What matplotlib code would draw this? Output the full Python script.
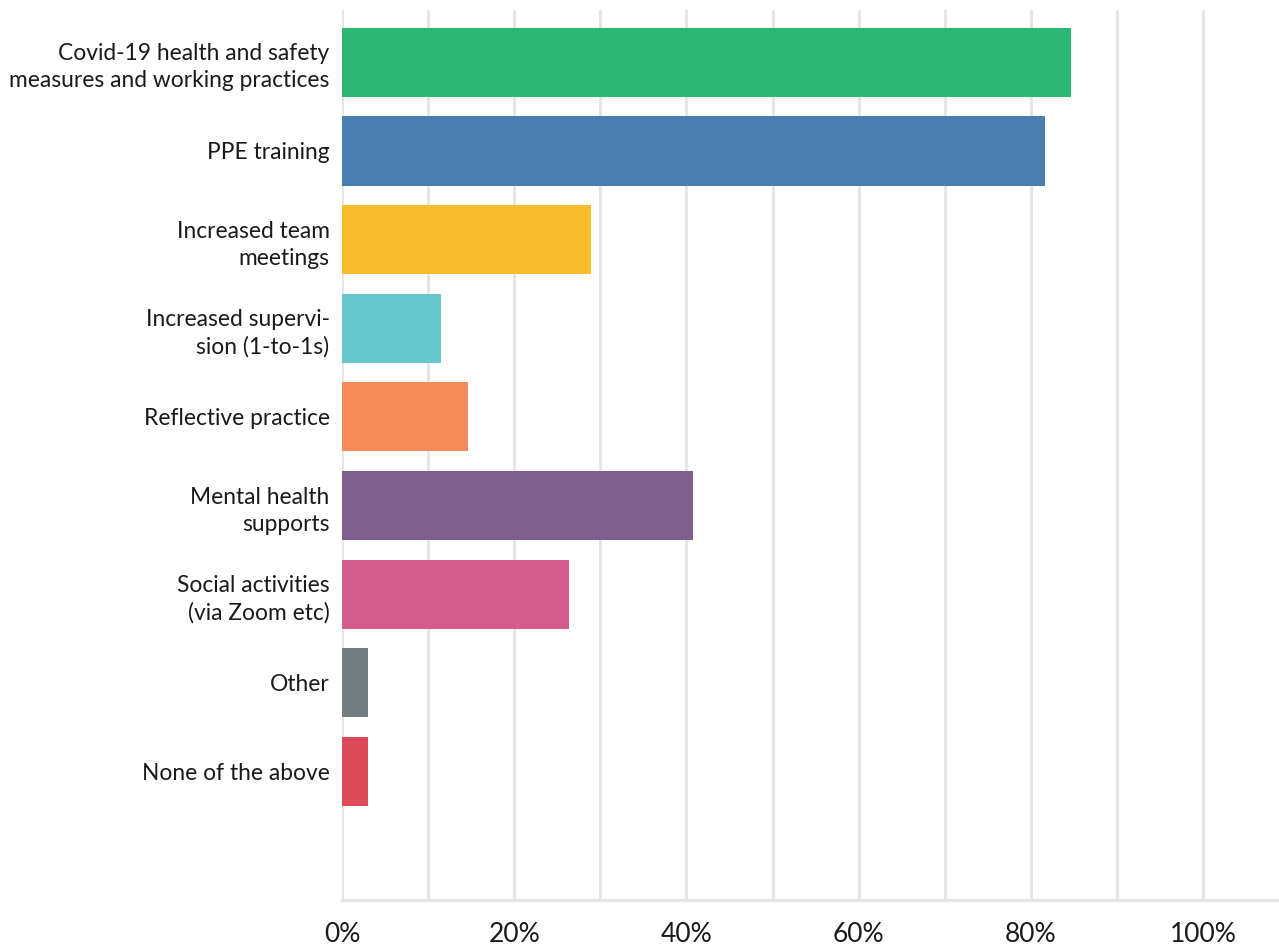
import matplotlib.pyplot as plt
from matplotlib.ticker import MultipleLocator

categories = [
    "Covid-19 health and safety\nmeasures and working practices",
    "PPE training",
    "Increased team\nmeetings",
    "Increased supervi-\nsion (1-to-1s)",
    "Reflective practice",
    "Mental health\nsupports",
    "Social activities\n(via Zoom etc)",
    "Other",
    "None of the above",
]
values = [84.7, 81.6, 28.9, 11.5, 14.6, 40.8, 26.4, 3.0, 3.0]
colors = ["#2bb673", "#4a7daf", "#f8bd2b", "#67c7cc", "#f68b59",
          "#7f5f8c", "#d65c8d", "#737d82", "#dd4b5a"]
xticks = [0, 20, 40, 60, 80, 100]

plt.rcParams['font.family'] = ['Lato', 'DejaVu Sans']

fig = plt.figure(figsize=(12.79, 9.47), dpi=100)
ax = fig.add_axes([0.2674, 0.0496, 0.7326, 0.9398])

ypos = list(range(len(categories)))
ax.barh(ypos, values, height=0.78, color=colors, zorder=2)

ax.set_xlim(0, 108.8)
ax.set_ylim(9.45, -0.59)
ax.set_yticks(ypos)
ax.set_yticklabels(categories, fontsize=16.4, color="#1a1a1a", linespacing=1.35)
ax.set_xticks(xticks)
ax.set_xticklabels([f"{t}%" for t in xticks], fontsize=19, color="#1a1a1a")
ax.xaxis.set_minor_locator(MultipleLocator(10))

ax.grid(axis="x", which="both", color="#e6e6e6", linewidth=2.2, zorder=0)
ax.tick_params(axis="both", which="both", length=0)
ax.tick_params(axis="y", pad=9)
ax.tick_params(axis="x", pad=16)

for side in ["top", "right", "left"]:
    ax.spines[side].set_visible(False)
ax.spines["bottom"].set_color("#e6e6e6")
ax.spines["bottom"].set_linewidth(2.2)

fig.savefig("out.png", dpi=100)
